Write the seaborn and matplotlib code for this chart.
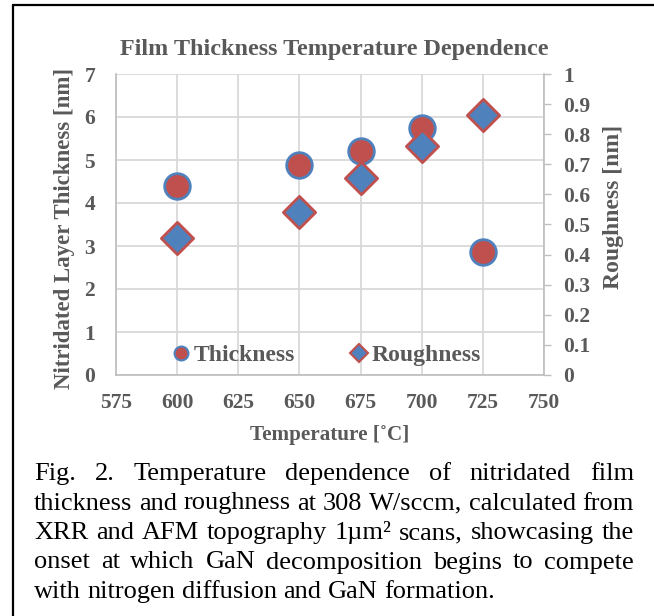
import matplotlib
matplotlib.use("Agg")
import matplotlib.pyplot as plt
from matplotlib.lines import Line2D
import seaborn as sns
import pandas as pd

temperature = [600, 650, 675, 700, 725]
thickness = [4.4, 4.88, 5.2, 5.74, 2.87]
roughness = [0.455, 0.543, 0.656, 0.76, 0.865]

x_ticks = [575, 600, 625, 650, 675, 700, 725, 750]
caption_lines = [
    "Fig. 2. Temperature dependence of nitridated film",
    "thickness and roughness at 308 W/sccm, calculated from",
    "XRR and AFM topography 1\u00b5m\u00b2 scans, showcasing the",
    "onset at which GaN decomposition begins to compete",
    "with nitrogen diffusion and GaN formation.",
]

sns.set_theme(style="white")
plt.rcParams["font.family"] = ["Liberation Serif", "DejaVu Serif"]

RED = "#C0504D"
BLUE = "#4F81BD"
GRAY = "#595959"
GRID = "#D9D9D9"

df = pd.DataFrame({"Temperature": temperature, "Thickness": thickness, "Roughness": roughness})

W, H = 654, 616
fig = plt.figure(figsize=(W / 100, H / 100), dpi=100)
ax = fig.add_axes([116 / W, 1 - 375 / H, (544 - 116) / W, (375 - 74) / H])
ax2 = ax.twinx()

sns.scatterplot(data=df, x="Temperature", y="Thickness", ax=ax, s=340, marker="o",
                color=RED, edgecolor=BLUE, linewidth=2, zorder=3, legend=False)
sns.scatterplot(data=df, x="Temperature", y="Roughness", ax=ax2, s=270, marker="D",
                color=BLUE, edgecolor=RED, linewidth=2, zorder=3, legend=False)

ax.set_xlim(575, 750)
ax.set_ylim(0, 7)
ax2.set_ylim(0, 1)
ax.set_xticks(x_ticks)
ax.set_yticks(range(0, 8))
ax2.set_yticks([i / 10 for i in range(11)])
ax2.set_yticklabels(["0"] + [f"{i / 10:.1f}" for i in range(1, 10)] + ["1"])

ax.grid(True, color=GRID, linewidth=1.3)
ax.set_axisbelow(True)
for a in (ax, ax2):
    for side in a.spines:
        a.spines[side].set_visible(False)
ax.spines["bottom"].set_visible(True)
ax.spines["left"].set_visible(True)
ax.spines["bottom"].set_color("#BFBFBF")
ax.spines["left"].set_color("#BFBFBF")
ax2.spines["right"].set_visible(True)
ax2.spines["right"].set_color("#BFBFBF")

ax.tick_params(axis="x", length=0, pad=13, labelcolor=GRAY, labelsize=15.5)
ax.tick_params(axis="y", length=0, pad=15, labelcolor=GRAY, labelsize=15.5)
ax2.tick_params(axis="y", length=5, width=1, color="#BFBFBF", pad=9, labelcolor=GRAY, labelsize=15.5)
for lab in ax.get_xticklabels() + ax.get_yticklabels() + ax2.get_yticklabels():
    lab.set_fontweight("bold")

ax.set_xlabel("")
ax.set_ylabel("Nitridated Layer Thickness [nm]", fontsize=16.5, fontweight="bold", color=GRAY)
ax.yaxis.set_label_coords(-0.095, 0.487)
ax2.set_ylabel("Roughness [nm]", fontsize=17, fontweight="bold", color=GRAY)
ax2.yaxis.set_label_coords(1.138, 0.56)

fig.text(330 / W, 1 - 435 / H, "Temperature [\u02daC]", ha="center", va="center",
         fontsize=15.2, fontweight="bold", color=GRAY)
fig.text(334 / W, 1 - 50 / H, "Film Thickness Temperature Dependence", ha="center", va="center",
         fontsize=17.4, fontweight="bold", color=GRAY)

handles = [
    Line2D([], [], marker="o", linestyle="", markersize=10, markerfacecolor=RED,
           markeredgecolor=BLUE, markeredgewidth=1.5, label="Thickness"),
    Line2D([], [], marker="D", linestyle="", markersize=9, markerfacecolor=BLUE,
           markeredgecolor=RED, markeredgewidth=1.5, label="Roughness"),
]
leg = ax2.legend(handles=handles, loc="center", bbox_to_anchor=(0.494, 0.066), ncol=2,
                 frameon=False, handlelength=0.6, handletextpad=0.25, columnspacing=2.4,
                 prop={"family": "Liberation Serif", "weight": "bold", "size": 17})
for t in leg.get_texts():
    t.set_color(GRAY)

# caption, justified like the paper
renderer = fig.canvas.get_renderer()
left_px, right_px = 34, 634
top_px, step = 472, 29.5
for i, line in enumerate(caption_lines):
    words = line.split(" ")
    y = 1 - (top_px + 8 + i * step) / H
    objs = [fig.text(0, y, w, fontsize=19, color="black", va="baseline", ha="left") for w in words]
    widths = [o.get_window_extent(renderer).width for o in objs]
    if i < len(caption_lines) - 1:
        gap = (right_px - left_px - sum(widths)) / (len(words) - 1)
    else:
        gap = 6.5
    x = left_px
    for o, w in zip(objs, widths):
        o.set_x(x / W)
        x += w + gap

# frame lines (top and left)
fig.add_artist(Line2D([13 / W, 13 / W], [0, 1 - 5 / H], transform=fig.transFigure, color="black", linewidth=1.6))
fig.add_artist(Line2D([13 / W, 1], [1 - 5 / H, 1 - 5 / H], transform=fig.transFigure, color="black", linewidth=1.6))

fig.savefig("out.png", dpi=100, facecolor="white")
